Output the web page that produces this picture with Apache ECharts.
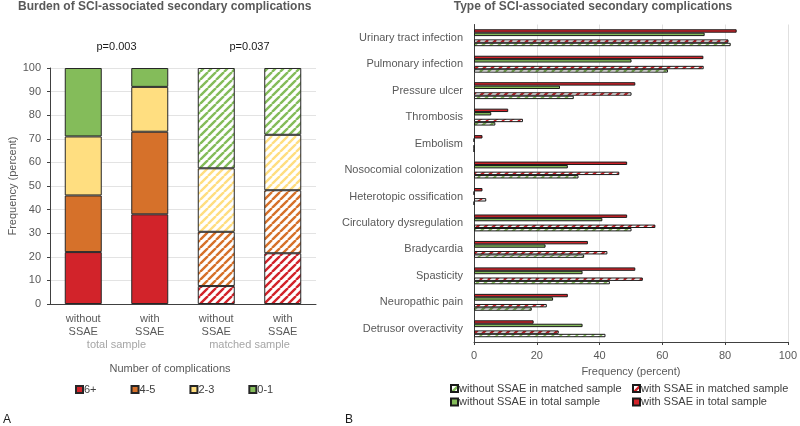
<!DOCTYPE html>
<html>
<head>
<meta charset="utf-8">
<script src="https://cdn.jsdelivr.net/npm/echarts@6/dist/echarts.min.js"></script>
<style>
  html, body { margin: 0; padding: 0; background: #fff; }
  #chart { width: 800px; height: 426px; }
</style>
</head>
<body>
<div id="chart"></div>
<script>
// left panel: burden (stacked percent)
const groupLabels = ['without\nSSAE', 'with\nSSAE', 'without\nSSAE', 'with\nSSAE'];
const sampleLabels = ['total sample', 'matched sample'];
const pValues = ['p=0.003', 'p=0.037'];
const burdenNames = ['6+', '4-5', '2-3', '0-1'];
const burden6 = [22, 38, 7.6, 21.5];
const burden45 = [24, 35, 23, 26.7];
const burden23 = [25, 19, 26.9, 23.5];
const burden01 = [29, 8, 42.5, 28.3];
const matchedIdx = [2, 3];

// right panel: type of complication
const complications = ['Urinary tract infection', 'Pulmonary infection', 'Pressure ulcer', 'Thrombosis',
  'Embolism', 'Nosocomial colonization', 'Heterotopic ossification', 'Circulatory dysregulation',
  'Bradycardia', 'Spasticity', 'Neuropathic pain', 'Detrusor overactivity'];
const withTotal = [83.7, 73.1, 51.4, 10.9, 2.7, 48.8, 2.7, 48.8, 36.3, 51.4, 29.9, 19.0];
const withoutTotal = [73.5, 50.2, 27.4, 5.5, 0, 29.9, 0, 40.9, 22.8, 34.6, 25.2, 34.6];
const withMatched = [81.1, 73.2, 50.2, 15.6, 0, 46.3, 3.9, 57.8, 42.5, 53.8, 23.2, 27.0];
const withoutMatched = [81.8, 61.8, 31.8, 6.8, 0, 33.3, 0, 50.2, 35.1, 43.3, 18.4, 41.9];

const RED = '#d2232a', ORANGE = '#d6712a', YELLOW = '#ffde80', GREEN = '#84bc5a';
const FONT = '"Liberation Sans", Arial, sans-serif';
const GREY = '#595959';

// white tile with diagonal coloured stripes
function hatch(color) {
  const n = 8;
  const c = document.createElement('canvas');
  c.width = n; c.height = n;
  const g = c.getContext('2d');
  g.fillStyle = '#fff';
  g.fillRect(0, 0, n, n);
  g.strokeStyle = color;
  g.lineWidth = 2.4;
  g.beginPath();
  for (const o of [-n, 0, n]) {
    g.moveTo(o, n);
    g.lineTo(o + n, 0);
  }
  g.stroke();
  return { image: c, repeat: 'repeat' };
}

function burdenSeries(name, values, color) {
  return {
    name: name,
    type: 'bar',
    stack: 'burden',
    xAxisIndex: 0,
    yAxisIndex: 0,
    barWidth: 37,
    itemStyle: { color: color, borderColor: '#262626', borderWidth: 1 },
    data: values.map((v, i) => matchedIdx.includes(i)
      ? { value: v, itemStyle: { color: hatch(color) } }
      : v)
  };
}

function typeSeries(name, values, color, width) {
  return {
    name: name,
    type: 'bar',
    xAxisIndex: 1,
    yAxisIndex: 1,
    barWidth: width,
    barGap: '0%',
    itemStyle: { color: color, borderColor: '#1a1a1a', borderWidth: 1 },
    data: values
  };
}

function oneLegend(name, left, top) {
  return {
    data: [name],
    left: left, top: top, padding: 0,
    itemWidth: 7, itemHeight: 7, icon: 'rect',
    textStyle: { fontSize: 11, color: '#404040', padding: [0, 0, 0, -4] }
  };
}

const myChart = echarts.init(document.getElementById('chart'));

const option = {
  animation: false,
  textStyle: { fontFamily: FONT },
  grid: [
    { left: 50, right: 484, top: 68, bottom: 122 },
    { left: 474, right: 9, top: 24.5, bottom: 84 }
  ],
  xAxis: [
    {
      gridIndex: 0,
      type: 'category',
      data: groupLabels,
      axisLine: { lineStyle: { color: '#404040' } },
      axisTick: { show: false },
      axisLabel: { interval: 0, fontSize: 11, color: GREY, lineHeight: 13, margin: 8 }
    },
    {
      gridIndex: 1,
      type: 'value',
      min: 0,
      max: 100,
      interval: 20,
      name: 'Frequency (percent)',
      nameLocation: 'middle',
      nameGap: 24,
      nameTextStyle: { fontSize: 11, color: GREY },
      axisLine: { show: true, lineStyle: { color: '#404040' } },
      axisTick: { show: true, length: 3, lineStyle: { color: '#404040' } },
      axisLabel: { fontSize: 11, color: GREY, margin: 8 },
      splitLine: { lineStyle: { color: '#e0e0e0' } }
    },
    {
      gridIndex: 0,
      type: 'category',
      position: 'bottom',
      offset: 27,
      data: sampleLabels,
      axisLine: { show: false },
      axisTick: { show: false },
      axisLabel: { fontSize: 11, color: '#a6a6a6', margin: 8 }
    },
    {
      gridIndex: 0,
      type: 'category',
      position: 'top',
      data: pValues,
      axisLine: { show: false },
      axisTick: { show: false },
      axisLabel: { fontSize: 11, color: '#1a1a1a', margin: 16 }
    }
  ],
  yAxis: [
    {
      gridIndex: 0,
      type: 'value',
      min: 0,
      max: 100,
      interval: 10,
      name: 'Frequency (percent)',
      nameLocation: 'middle',
      nameGap: 29,
      nameTextStyle: { fontSize: 11, color: GREY },
      axisLine: { show: true, lineStyle: { color: '#404040' } },
      axisTick: { show: true, length: 3, lineStyle: { color: '#404040' } },
      axisLabel: { fontSize: 11, color: GREY, margin: 9 },
      splitLine: { lineStyle: { color: '#e3e3e3' } }
    },
    {
      gridIndex: 1,
      type: 'category',
      inverse: true,
      data: complications,
      axisLine: { lineStyle: { color: '#404040' } },
      axisTick: { show: false },
      axisLabel: { interval: 0, fontSize: 11, color: GREY, margin: 11 }
    }
  ],
  legend: [
    {
      data: burdenNames,
      left: 75, top: 384, padding: 0,
      itemWidth: 7, itemHeight: 7, itemGap: 34,
      icon: 'rect',
      textStyle: { fontSize: 11, color: '#404040', padding: [0, 0, 0, -4] }
    },
    oneLegend('without SSAE in matched sample', 450, 383),
    oneLegend('with SSAE in matched sample', 632, 383),
    oneLegend('without SSAE in total sample', 450, 396.5),
    oneLegend('with SSAE in total sample', 632, 396.5)
  ],
  graphic: [
    {
      type: 'text', x: 18, y: 7,
      style: { text: 'Burden of SCI-associated secondary complications', font: 'bold 12px ' + FONT,
        fill: GREY, textVerticalAlign: 'middle' }
    },
    {
      type: 'text', x: 593, y: 7,
      style: { text: 'Type of SCI-associated secondary complications', font: 'bold 12px ' + FONT,
        fill: GREY, textAlign: 'center', textVerticalAlign: 'middle' }
    },
    {
      type: 'text', x: 170, y: 369,
      style: { text: 'Number of complications', font: '11px ' + FONT,
        fill: GREY, textAlign: 'center', textVerticalAlign: 'middle' }
    },
    {
      type: 'text', x: 3, y: 420,
      style: { text: 'A', font: '12px ' + FONT, fill: '#1a1a1a', textVerticalAlign: 'middle' }
    },
    {
      type: 'text', x: 345, y: 420,
      style: { text: 'B', font: '12px ' + FONT, fill: '#1a1a1a', textVerticalAlign: 'middle' }
    }
  ],
  series: [
    burdenSeries('6+', burden6, RED),
    burdenSeries('4-5', burden45, ORANGE),
    burdenSeries('2-3', burden23, YELLOW),
    burdenSeries('0-1', burden01, GREEN),
    typeSeries('with SSAE in total sample', withTotal, RED, 3.4),
    typeSeries('without SSAE in total sample', withoutTotal, GREEN, 3.4),
    // empty spacer between the total and matched pairs
    typeSeries('spacer', complications.map(() => null), 'transparent', 3.3),
    typeSeries('with SSAE in matched sample', withMatched, hatch(RED), 3.4),
    typeSeries('without SSAE in matched sample', withoutMatched, hatch(GREEN), 3.4)
  ]
};

myChart.setOption(option);
</script>
</body>
</html>
